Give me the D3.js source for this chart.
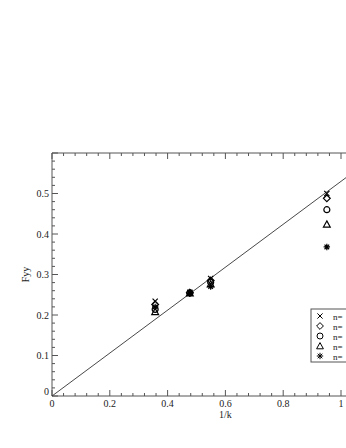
<!DOCTYPE html>
<html>
<head>
<meta charset="utf-8">
<script src="https://cdn.jsdelivr.net/npm/d3@7"></script>
<style>
  body { margin: 0; background: #fff; }
  svg { display: block; font-family: "Liberation Serif", "DejaVu Serif", serif; }
</style>
</head>
<body>
<script>
const width = 346, height = 448;

// x positions of the measured points (1/k)
const kInv = [0.357, 0.477, 0.549, 0.951];
// Fyy for each series, one value per kInv
const seriesNames = ["n=", "n=", "n=", "n=", "n="];
const seriesSymbols = ["cross", "diamond", "circle", "triangle", "asterisk"];
const fyyCross = [0.234, 0.256, 0.290, 0.500];
const fyyDiamond = [0.226, 0.255, 0.285, 0.488];
const fyyCircle = [0.214, 0.255, 0.281, 0.460];
const fyyTriangle = [0.208, 0.254, 0.276, 0.424];
const fyyStar = [0.220, 0.253, 0.270, 0.368];
const seriesValues = [fyyCross, fyyDiamond, fyyCircle, fyyTriangle, fyyStar];
// fitted straight line Fyy = slope * (1/k)
const fitX = [0, 1.2];
const fitSlope = 0.53;

const xTicks = [0, 0.2, 0.4, 0.6, 0.8, 1];
const yTicks = [0.1, 0.2, 0.3, 0.4, 0.5];

const padLeft = 52, padTop = 153, padBottom = 396;
const x = d3.scaleLinear().domain([0, 1.2]).range([padLeft, padLeft + 1.2 * 289]);
const y = d3.scaleLinear().domain([0, 0.6]).range([padBottom, padTop]);

const svg = d3.select('body').append('svg').attr('width', width).attr('height', height);
const axisColor = '#555';

// minor + major ticks
const xMinor = d3.range(0, 1.21, 0.04);
const yMinor = d3.range(0, 0.601, 0.02);
const g = svg.append('g').attr('stroke', axisColor).attr('stroke-width', 1);

xMinor.forEach(v => {
  const major = Math.abs(Math.round(v / 0.2) * 0.2 - v) < 1e-6;
  const len = major ? 6 : 3;
  g.append('line').attr('x1', x(v)).attr('x2', x(v)).attr('y1', padBottom).attr('y2', padBottom - len);
  g.append('line').attr('x1', x(v)).attr('x2', x(v)).attr('y1', padTop).attr('y2', padTop + len);
});
yMinor.forEach(v => {
  const major = Math.abs(Math.round(v / 0.1) * 0.1 - v) < 1e-6;
  const len = major ? 6 : 3;
  g.append('line').attr('x1', padLeft).attr('x2', padLeft + len).attr('y1', y(v)).attr('y2', y(v));
});

// frame
g.append('line').attr('x1', padLeft).attr('x2', x(1.2)).attr('y1', padBottom).attr('y2', padBottom);
g.append('line').attr('x1', padLeft).attr('x2', x(1.2)).attr('y1', padTop).attr('y2', padTop);
g.append('line').attr('x1', padLeft).attr('x2', padLeft).attr('y1', padTop).attr('y2', padBottom);

// tick labels
svg.append('g').selectAll('text').data(xTicks).enter().append('text')
  .attr('x', d => x(d)).attr('y', padBottom + 11)
  .attr('text-anchor', 'middle').attr('font-size', 10).attr('fill', '#222')
  .text(d => d === 0 ? '0' : d3.format('.1f')(d).replace('1.0', '1'));
svg.append('g').selectAll('text').data([0].concat(yTicks)).enter().append('text')
  .attr('x', padLeft - 3).attr('y', d => y(d) + (d === 0 ? -1 : 3.5))
  .attr('text-anchor', 'end').attr('font-size', 10).attr('fill', '#222')
  .text(d => d === 0 ? '0' : d3.format('.1f')(d));

// axis titles
svg.append('text').attr('x', x(0.6)).attr('y', padBottom + 22)
  .attr('text-anchor', 'middle').attr('font-size', 10).attr('fill', '#222').text('1/k');
svg.append('text').attr('transform', `translate(${29},${y(0.3)}) rotate(-90)`)
  .attr('text-anchor', 'middle').attr('font-size', 10).attr('fill', '#222').text('Fyy');

// fit line
svg.append('line')
  .attr('x1', x(fitX[0])).attr('y1', y(fitX[0] * fitSlope))
  .attr('x2', x(fitX[1])).attr('y2', y(fitX[1] * fitSlope))
  .attr('stroke', '#333').attr('stroke-width', 0.9);

function drawSymbol(sel, type) {
  const s = 2.6;
  if (type === 'cross') {
    sel.append('path').attr('d', `M${-s},${-s}L${s},${s}M${-s},${s}L${s},${-s}`);
  } else if (type === 'diamond') {
    sel.append('path').attr('d', `M0,${-3.4}L3.4,0L0,3.4L${-3.4},0Z`);
  } else if (type === 'circle') {
    sel.append('circle').attr('r', 3);
  } else if (type === 'triangle') {
    sel.append('path').attr('d', `M0,${-3.4}L3.4,2.8L${-3.4},2.8Z`);
  } else {
    sel.append('path').attr('d', `M0,${-3.2}V3.2M${-3.2},0H3.2M${-2.3},${-2.3}L2.3,2.3M${-2.3},2.3L2.3,${-2.3}`);
  }
}

seriesValues.forEach((vals, i) => {
  vals.forEach((v, j) => {
    const m = svg.append('g').attr('transform', `translate(${x(kInv[j])},${y(v)})`)
      .attr('fill', 'none').attr('stroke', '#000').attr('stroke-width', 1.2);
    drawSymbol(m, seriesSymbols[i]);
  });
});

// legend
const lg = svg.append('g').attr('transform', 'translate(311,309)');
lg.append('rect').attr('width', 60).attr('height', 53).attr('fill', '#fff')
  .attr('stroke', axisColor).attr('stroke-width', 1);
seriesNames.forEach((name, i) => {
  const ry = 7 + i * 10;
  const m = lg.append('g').attr('transform', `translate(9,${ry})`)
    .attr('fill', 'none').attr('stroke', '#000').attr('stroke-width', 1);
  drawSymbol(m, seriesSymbols[i]);
  lg.append('text').attr('x', 22).attr('y', ry + 3.5).attr('font-size', 9)
    .attr('fill', '#222').text(name);
});
</script>
</body>
</html>
